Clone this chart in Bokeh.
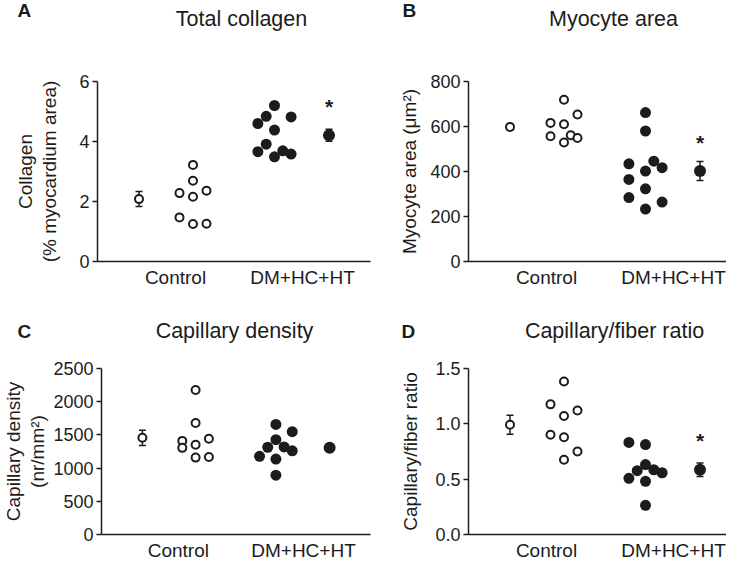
from bokeh.plotting import figure
from bokeh.models import Range1d, FixedTicker, Label, Whisker, ColumnDataSource, TeeHead
from bokeh.layouts import column, row
from bokeh.embed import file_html
from bokeh.resources import INLINE

FONT = "Liberation Sans"
INK = "#1c1c1c"

# ---------------- data ----------------
categories = ["Control", "DM+HC+HT"]

# A: Total collagen (% myocardium area)
collagen_control = [3.22, 2.69, 2.28, 2.16, 2.36, 1.47, 1.25, 1.26]
collagen_dm = [5.20, 4.84, 4.60, 4.82, 4.38, 3.91, 3.66, 3.49, 3.69, 3.58]
collagen_mean = [2.08, 4.21]
collagen_sem = [0.25, 0.20]
collagen_ticks = [0, 2, 4, 6]

# B: Myocyte area (um2)
myocyte_control = [719, 653, 616, 610, 557, 561, 549, 529]
myocyte_dm = [662, 580, 434, 446, 417, 402, 365, 323, 284, 264, 233]
myocyte_mean = [598, 402]
myocyte_sem = [14, 42]
myocyte_ticks = [0, 200, 400, 600, 800]

# C: Capillary density (nr/mm2)
capdens_control = [2175, 1680, 1410, 1305, 1442, 1351, 1158, 1168]
capdens_dm = [1658, 1548, 1428, 1314, 1319, 1260, 1177, 1136, 893]
capdens_mean = [1456, 1305]
capdens_sem = [115, 40]
capdens_ticks = [0, 500, 1000, 1500, 2000, 2500]

# D: Capillary/fiber ratio
ratio_control = [1.382, 1.176, 1.121, 1.071, 0.901, 0.879, 0.750, 0.676]
ratio_dm = [0.832, 0.813, 0.632, 0.577, 0.585, 0.558, 0.508, 0.481, 0.264]
ratio_mean = [0.992, 0.585]
ratio_sem = [0.085, 0.06]
ratio_ticks = [0, 0.5, 1.0, 1.5]

panel_letters = ["A", "B", "C", "D"]
panel_titles = ["Total collagen", "Myocyte area", "Capillary density", "Capillary/fiber ratio"]

# ---------------- layout (beeswarm columns; x in px from the y axis) ----------------
collagen_ctrl_cols = [0, 0, -1, 0, 1, -1, 0, 1]
collagen_dm_cols = [0, -1, -2, 2, 0, -1, -2, 0, 1, 2]
myocyte_ctrl_cols = [0, 1, -1, 0, -1, 0.5, 1, 0]
myocyte_dm_cols = [0, 0, -2, 1, 2, 0, -2, 0, -2, 2, 0]
capdens_ctrl_cols = [0, 0, -1, -1, 1, 0, 0, 1]
capdens_dm_cols = [0, 2, 0, -1, 1, 2, -2, 0, 0]
ratio_ctrl_cols = [0, -1, 1, 0, -1, 0, 1, 0]
ratio_dm_cols = [-2, 0, 0, -1, 1, 2, -2, 0, 0]

CTRL_CENTER, CTRL_STEP = 95.5, 13.5
DM_CENTER, DM_STEP = 177.0, 8.3
MEAN_X = [41.5, 231.5]
LABEL_X = [78, 205]

TOTAL_W = 726
LEFT_W, RIGHT_W = 371, 355
HEAD1_H, ROW1_H, HEAD2_H, ROW2_H = 45, 245, 53, 220


def header(height, items):
    h = figure(width=TOTAL_W, height=height, x_range=Range1d(0, TOTAL_W),
               y_range=Range1d(height, 0), output_backend="svg",
               toolbar_location=None, title=None,
               x_axis_location=None, y_axis_location=None,
               min_border=0, min_border_left=0, min_border_right=0,
               min_border_top=0, min_border_bottom=0)
    h.outline_line_color = None
    h.grid.visible = False
    h.background_fill_color = "white"
    h.border_fill_color = "white"
    for text, x, y, align, size, style in items:
        h.add_layout(Label(x=x, y=y, text=text, text_align=align,
                           text_baseline="alphabetic", text_font=FONT,
                           text_font_size=size, text_font_style=style,
                           text_color=INK))
    return h


def make_panel(ylabel, ctrl, dm, cols_c, cols_d, mean, sem, yticks, ytop, star,
               col, rw, ylab_standoff, fmt=None, line_h=1.15):
    width = LEFT_W if col == 0 else RIGHT_W
    height = ROW1_H if rw == 0 else ROW2_H
    mbl = 97
    mbr = 1 if col == 0 else 0
    mbt = 36 if rw == 0 else 25
    mbb = 28 if rw == 0 else 27
    frame_w = width - mbl - mbr
    p = figure(width=width, height=height, x_range=Range1d(0, frame_w),
               y_range=Range1d(0, ytop), output_backend="svg",
               toolbar_location=None, title=None,
               min_border_left=mbl, min_border_right=mbr,
               min_border_top=mbt, min_border_bottom=mbb)
    p.outline_line_color = None
    p.grid.visible = False
    p.background_fill_color = "white"
    p.border_fill_color = "white"

    # x axis
    xa = p.xaxis[0]
    xa.ticker = FixedTicker(ticks=LABEL_X)
    xa.major_label_overrides = {LABEL_X[0]: categories[0], LABEL_X[1]: categories[1]}
    xa.major_tick_out = 0
    xa.major_tick_in = 0
    xa.minor_tick_line_color = None
    xa.major_label_text_font = FONT
    xa.major_label_text_font_size = "19px"
    xa.major_label_text_color = INK
    xa.major_label_standoff = 5
    xa.axis_line_width = 1.5
    xa.axis_line_color = INK

    # y axis
    ya = p.yaxis[0]
    ya.ticker = FixedTicker(ticks=yticks)
    if fmt:
        ya.major_label_overrides = {t: fmt.format(t) for t in yticks}
    ya.major_tick_out = 5
    ya.major_tick_in = 0
    ya.minor_tick_line_color = None
    ya.major_tick_line_width = 1.5
    ya.major_tick_line_color = INK
    ya.axis_line_width = 1.5
    ya.axis_line_color = INK
    ya.major_label_text_font = FONT
    ya.major_label_text_font_size = "18px"
    ya.major_label_text_color = INK
    ya.major_label_standoff = 3
    ya.axis_label = ylabel
    ya.axis_label_text_font = FONT
    ya.axis_label_text_font_size = "19px"
    ya.axis_label_text_font_style = "normal"
    ya.axis_label_text_color = INK
    ya.axis_label_standoff = ylab_standoff
    ya.axis_label_text_line_height = line_h

    # error bars (mean +/- SEM)
    src = ColumnDataSource(dict(
        x=MEAN_X,
        lower=[m - s for m, s in zip(mean, sem)],
        upper=[m + s for m, s in zip(mean, sem)],
    ))
    p.add_layout(Whisker(source=src, base="x", lower="lower", upper="upper",
                         line_color=INK, line_width=1.5,
                         upper_head=TeeHead(size=7, line_color=INK, line_width=1.5),
                         lower_head=TeeHead(size=7, line_color=INK, line_width=1.5)))

    # individual animals
    xs_c = [CTRL_CENTER + c * CTRL_STEP for c in cols_c]
    xs_d = [DM_CENTER + c * DM_STEP for c in cols_d]
    p.scatter(xs_c, ctrl, size=8, marker="circle", fill_color="white",
              line_color=INK, line_width=2)
    p.scatter(xs_d, dm, size=11, marker="circle", fill_color=INK, line_color=None)

    # group means
    p.scatter([MEAN_X[0]], [mean[0]], size=8, marker="circle", fill_color="white",
              line_color=INK, line_width=2)
    p.scatter([MEAN_X[1]], [mean[1]], size=12, marker="circle", fill_color=INK,
              line_color=None)

    if star:
        p.add_layout(Label(x=MEAN_X[1], y=mean[1], y_offset=29, text="*",
                           text_align="center", text_baseline="middle",
                           text_font=FONT, text_font_size="21px",
                           text_font_style="bold", text_color=INK))
    return p


head1 = header(HEAD1_H, [
    (panel_letters[0], 17, 10, "left", "19px", "bold"),
    (panel_titles[0], 241, 18, "center", "21.5px", "normal"),
    (panel_letters[1], 402, 10, "left", "19px", "bold"),
    (panel_titles[1], 613, 18, "center", "21.5px", "normal"),
])
head2 = header(HEAD2_H, [
    (panel_letters[2], 17, 41, "left", "19px", "bold"),
    (panel_titles[2], 234, 40, "center", "21.5px", "normal"),
    (panel_letters[3], 401, 41, "left", "19px", "bold"),
    (panel_titles[3], 614, 40, "center", "21.5px", "normal"),
])

pA = make_panel("Collagen\n(% myocardium area)",
                collagen_control, collagen_dm, collagen_ctrl_cols, collagen_dm_cols,
                collagen_mean, collagen_sem, collagen_ticks, 6, True, 0, 0, 16)
pB = make_panel("Myocyte area (\u03bcm\u00b2)",
                myocyte_control, myocyte_dm, myocyte_ctrl_cols, myocyte_dm_cols,
                myocyte_mean, myocyte_sem, myocyte_ticks, 800, True, 1, 0, 7)
pC = make_panel("Capillary density\n(nr/mm\u00b2)",
                capdens_control, capdens_dm, capdens_ctrl_cols, capdens_dm_cols,
                capdens_mean, capdens_sem, capdens_ticks, 2500, False, 0, 1, 2)
pD = make_panel("Capillary/fiber ratio",
                ratio_control, ratio_dm, ratio_ctrl_cols, ratio_dm_cols,
                ratio_mean, ratio_sem, ratio_ticks, 1.5, True, 1, 1, 11, fmt="{:.1f}")

layout = column(head1, row(pA, pB), head2, row(pC, pD))
open("out.html", "w").write(file_html(layout, INLINE))
